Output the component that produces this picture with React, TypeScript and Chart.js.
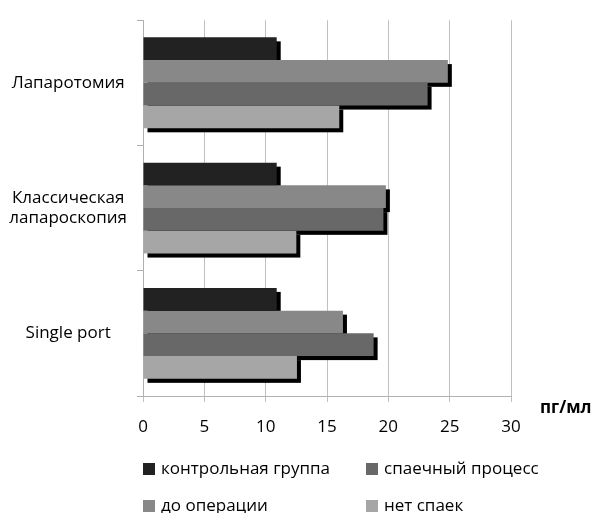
import React, { useEffect, useRef } from 'react';
import { Chart, registerables } from 'chart.js';

Chart.register(...registerables);

const categories: (string | string[])[] = ['Лапаротомия', ['Классическая', 'лапароскопия'], 'Single port'];
const seriesNames = ['контрольная группа', 'до операции', 'спаечный процесс', 'нет спаек'];
const seriesColors = ['#222222', '#888888', '#686868', '#a6a6a6'];
const controlGroup = [10.9, 10.9, 10.9];
const beforeSurgery = [24.85, 19.8, 16.3];
const adhesionProcess = [23.2, 19.6, 18.8];
const noAdhesions = [16.0, 12.5, 12.55];
const xMin = 0;
const xMax = 30;
const xStep = 5;
const unitLabel = 'пг/мл';
// legend order: row 1 = [0, 2], row 2 = [1, 3]
const legendGrid = [[0, 2], [1, 3]];

const FONT = '"Open Sans", sans-serif';

const shadowPlugin = {
  id: 'barShadow',
  beforeDatasetsDraw(chart: any) {
    const ctx = chart.ctx;
    ctx.save();
    ctx.fillStyle = '#000000';
    chart.data.datasets.forEach((_ds: any, i: number) => {
      const meta = chart.getDatasetMeta(i);
      meta.data.forEach((el: any) => {
        const { x, y, base, height } = el.getProps(['x', 'y', 'base', 'height'], true);
        const left = Math.min(x, base);
        const right = Math.max(x, base);
        ctx.fillRect(left + 4, y - height / 2 + 4, right - left, height);
      });
    });
    ctx.restore();
  },
};

const overlayPlugin = {
  id: 'overlay',
  afterDraw(chart: any) {
    const ctx = chart.ctx;
    const area = chart.chartArea;
    ctx.save();
    // unit label
    ctx.font = `bold 17px ${FONT}`;
    ctx.fillStyle = '#000000';
    ctx.textAlign = 'left';
    ctx.textBaseline = 'alphabetic';
    ctx.fillText(unitLabel, 540, 413);
    // legend
    ctx.font = `17px ${FONT}`;
    ctx.textBaseline = 'middle';
    const colX = [area.left, 366];
    const rowY = [463, 500];
    legendGrid.forEach((row, r) => {
      row.forEach((si, c) => {
        ctx.fillStyle = seriesColors[si];
        ctx.fillRect(colX[c], rowY[r], 12, 12);
        ctx.fillStyle = '#000000';
        ctx.fillText(seriesNames[si], colX[c] + 18, rowY[r] + 6);
      });
    });
    ctx.restore();
  },
};

export default function App() {
  const canvasRef = useRef<HTMLCanvasElement | null>(null);

  useEffect(() => {
    document.body.style.margin = '0';
    const canvas = canvasRef.current;
    if (!canvas) return;
    const seriesValues = [controlGroup, beforeSurgery, adhesionProcess, noAdhesions];
    const chart = new Chart(canvas, {
      type: 'bar',
      data: {
        labels: categories,
        datasets: seriesValues.map((vals, i) => ({
          label: seriesNames[i],
          data: vals,
          backgroundColor: seriesColors[i],
          borderWidth: 0,
          barPercentage: 1,
          categoryPercentage: 0.726,
        })),
      },
      options: {
        indexAxis: 'y',
        responsive: false,
        animation: false,
        events: [],
        layout: { padding: { top: 15, right: 84, left: 0, bottom: 0 } },
        plugins: {
          legend: { display: false },
          tooltip: { enabled: false },
        },
        scales: {
          x: {
            type: 'linear',
            min: xMin,
            max: xMax,
            ticks: {
              stepSize: xStep,
              color: '#000000',
              font: { family: FONT, size: 17 },
              padding: 15,
            },
            grid: { color: '#c0c0c0', tickLength: 6, lineWidth: 1 },
            border: { color: '#b0b0b0' },
            afterFit(scale: any) {
              scale.height = 117;
            },
          },
          y: {
            type: 'category',
            ticks: {
              color: '#000000',
              font: { family: FONT, size: 17 },
              crossAlign: 'center',
              padding: 10,
            },
            grid: { drawOnChartArea: false, tickLength: 6, color: '#b0b0b0', offset: true },
            border: { color: '#b0b0b0' },
            afterFit(scale: any) {
              scale.width = 143;
            },
          },
        },
      },
      plugins: [shadowPlugin, overlayPlugin],
    } as any);
    return () => chart.destroy();
  }, []);

  return (
    <div style={{ width: 595, height: 513, background: '#ffffff' }}>
      <canvas ref={canvasRef} width={595} height={513} />
    </div>
  );
}
